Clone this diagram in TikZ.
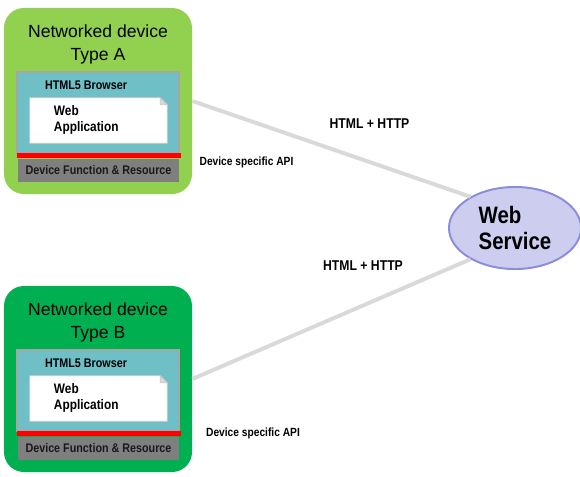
\documentclass[tikz,border=0pt]{standalone}
\usepackage{fontspec}
\setmainfont{Liberation Sans}
\newfontfamily\narrowbf[FakeStretch=0.86]{Liberation Sans Bold}
\usepackage{tikz}
\usetikzlibrary{shapes.geometric}
\usetikzlibrary{calc}

\definecolor{lightgreen}{HTML}{92D050}
\definecolor{darkgreen}{HTML}{00B050}
\definecolor{browserteal}{HTML}{6FBFC6}
\definecolor{framegray}{HTML}{A6A6A6}
\definecolor{resgray}{HTML}{7F7F7F}
\definecolor{linkgray}{HTML}{D9D9D9}
\definecolor{wsfill}{HTML}{CDCDF0}
\definecolor{wsline}{HTML}{8C8CDC}

\tikzset{
  device/.style={rounded corners=0.5cm, minimum width=4.7cm, minimum height=4.65cm, inner sep=0pt},
  title/.style={align=center, font=\fontsize{12.5}{15.8}\selectfont},
  browser/.style={fill=browserteal, draw=framegray, line width=1.4pt, minimum width=4.05cm, minimum height=2.025cm, inner sep=0pt},
  brwtext/.style={font=\narrowbf\fontsize{8.9}{10}\selectfont},
  appbox/.style={minimum width=3.425cm, minimum height=1.125cm, inner sep=0pt},
  appdoc/.style={fill=white, draw=gray!45, line width=0.6pt},
  appfold/.style={fill=gray!30, draw=gray!45, line width=0.6pt},
  apptext/.style={align=left, font=\narrowbf\fontsize{9.8}{11.5}\selectfont},
  redbar/.style={fill=red, minimum width=4.1cm, minimum height=0.14cm, inner sep=0pt},
  resbox/.style={fill=resgray, text=black!90, minimum width=4.025cm, minimum height=0.575cm, inner sep=0pt, font=\narrowbf\fontsize{8.9}{10}\selectfont},
  service/.style={ellipse, fill=wsfill, draw=wsline, line width=1.4pt, minimum width=3.3cm, minimum height=2.05cm, inner sep=0pt, align=left, font=\narrowbf\fontsize{16.9}{18.5}\selectfont},
  link/.style={draw=linkgray, line width=2.8pt},
  proto/.style={font=\narrowbf\fontsize{10.1}{12}\selectfont},
  apilabel/.style={font=\narrowbf\fontsize{8.45}{10}\selectfont}
}

\begin{document}
\begin{tikzpicture}[x=0.025cm, y=-0.025cm]
\useasboundingbox (0,0) rectangle (580,476);

\foreach \t/\dy/\col in {A/0/lightgreen, B/278/darkgreen} {
  \node[device, fill=\col] (dev\t) at (98,101+\dy) {};
  \node[title] (title\t) at (98,44.5+\dy) {Networked device\\Type \t};
  \node[browser] (brw\t) at (98,112.5+\dy) {};
  \node[brwtext] (brwText\t) at (86,85+\dy) {HTML5 Browser};
  \node[appbox] (app\t) at (98.5,120.5+\dy) {};
  \filldraw[appdoc] (app\t.south west) -- (app\t.north west) -- ($(app\t.north east)+(-7,0)$)
    -- ($(app\t.north east)+(0,7)$) -- (app\t.south east) -- cycle;
  \filldraw[appfold] ($(app\t.north east)+(-7,0)$) -- ($(app\t.north east)+(0,7)$)
    -- ($(app\t.north east)+(-7,7)$) -- cycle;
  \node[apptext, anchor=west] (appText\t) at (49,120+\dy) {Web\\Application};
  \node[redbar] (api\t) at (99,155.5+\dy) {};
  \node[resbox] (res\t) at (98.5,170.5+\dy) {Device Function \& Resource};
}

% web service and links
\node[service] (ws) at (515,228) {Web\\Service};
\draw[link] (devA.east) -- (ws.145);
\draw[link] (devB.east) -- (ws.215);

\node[proto] (httpA) at (369.5,124) {HTML + HTTP};
\node[proto] (httpB) at (363,266) {HTML + HTTP};
\node[apilabel] (apiTextA) at (246.5,162) {Device specific API};
\node[apilabel] (apiTextB) at (253,433) {Device specific API};
\end{tikzpicture}
\end{document}
